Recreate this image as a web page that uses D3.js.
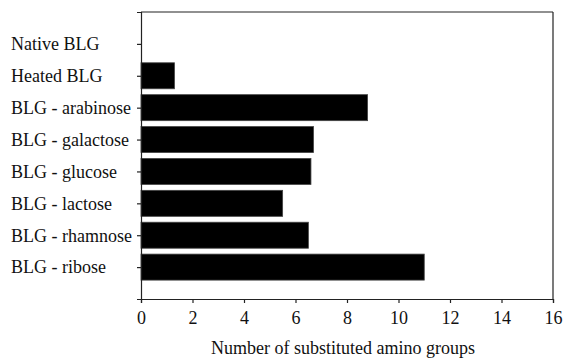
<!DOCTYPE html>
<html><head><meta charset="utf-8">
<script src="https://cdn.jsdelivr.net/npm/d3@7"></script>
<style>body{margin:0;background:#fff;}svg{display:block;}</style>
</head><body>
<svg id="c" width="564" height="358"></svg>
<script>
const categories = ["Native BLG","Heated BLG","BLG - arabinose","BLG - galactose","BLG - glucose","BLG - lactose","BLG - rhamnose","BLG - ribose"];
const values = [0, 1.3, 8.8, 6.7, 6.6, 5.5, 6.5, 11.0];
const xTicks = [0,2,4,6,8,10,12,14,16];
const xTitle = "Number of substituted amino groups";

const svg = d3.select("#c");
const L = 141, R = 553, T = 12, B = 299;
const font = "'Liberation Serif', 'Times New Roman', serif";
const fs = 18;

const x = d3.scaleLinear().domain([0,16]).range([L,R]);
const y = d3.scalePoint().domain(categories).range([T,B]).padding(1);
const barH = 26;

// bars
svg.append("g").selectAll("rect").data(values).join("rect")
  .attr("x", x(0))
  .attr("y", (d,i)=>y(categories[i]) - barH/2)
  .attr("width", d=>x(d)-x(0))
  .attr("height", barH)
  .attr("fill", "#000")
  .attr("stroke", "#444").attr("stroke-width", 0.8);

// frame top/right
svg.append("line").attr("x1",L).attr("x2",R).attr("y1",T).attr("y2",T).attr("stroke","#222").attr("stroke-width",1.2);
svg.append("line").attr("x1",R).attr("x2",R).attr("y1",T).attr("y2",B).attr("stroke","#222").attr("stroke-width",1.2);

// x axis
const gx = svg.append("g").attr("transform",`translate(0,${B})`)
  .call(d3.axisBottom(x).tickValues(xTicks).tickSize(4).tickSizeOuter(4).tickPadding(8).tickFormat(d3.format("d")));
gx.selectAll("text").attr("font-family",font).attr("font-size",fs).attr("fill","#111");

// y axis
const gy = svg.append("g").attr("transform",`translate(${L},0)`)
  .call(d3.axisLeft(y).tickSize(4).tickSizeOuter(4).tickFormat(""));
svg.selectAll(".domain").attr("stroke","#222").attr("stroke-width",1.2);
svg.selectAll(".tick line").attr("stroke","#222").attr("stroke-width",1.2);

// y labels, left-aligned
svg.append("g").selectAll("text").data(categories).join("text")
  .attr("x", 11)
  .attr("y", d=>y(d))
  .attr("dy","0.35em")
  .attr("font-family",font).attr("font-size",fs).attr("fill","#111")
  .text(d=>d);

// x title
svg.append("text").attr("x",343).attr("y",354).attr("text-anchor","middle")
  .attr("font-family",font).attr("font-size",fs).attr("fill","#111").text(xTitle);
</script>
</body></html>
